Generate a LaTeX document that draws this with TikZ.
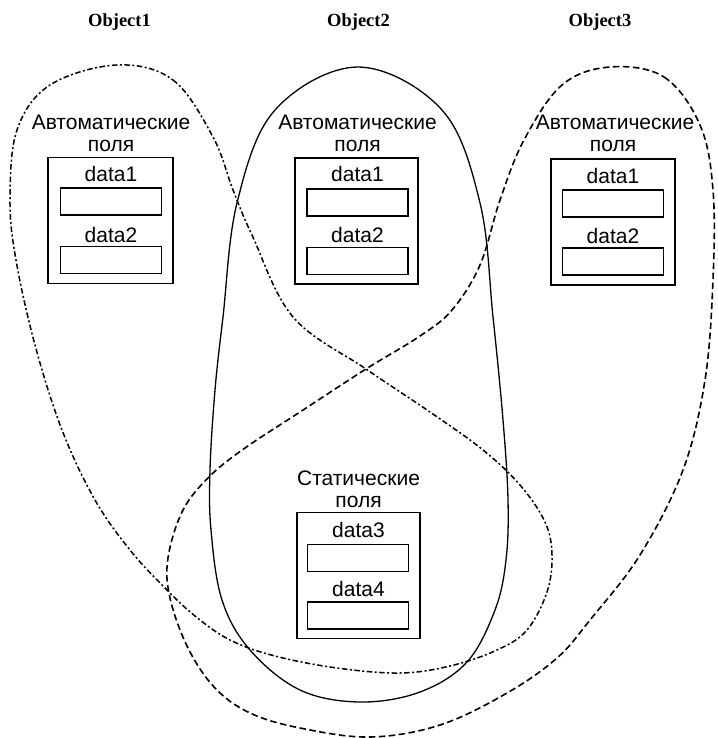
\documentclass[tikz,border=0pt]{standalone}
\usepackage{fontspec}
\setmainfont{Liberation Sans}
\newfontfamily\titlefont{Liberation Serif}
\begin{document}
\begin{tikzpicture}[x=1pt,y=-1pt,
  title/.style={font=\titlefont\bfseries\fontsize{18.5}{21}\selectfont, anchor=base, inner sep=0},
  lbl/.style={font=\fontsize{21}{25}\selectfont, anchor=base, inner sep=0},
  outerbox/.style={draw, line width=1.2pt, inner sep=0, minimum width=#1, minimum height=126pt},
  field/.style={draw, line width=1.2pt, inner sep=0, minimum width=101pt, minimum height=27pt},
  solidregion/.style={draw, line width=1.3pt},
  dotdashregion/.style={draw, line width=1.5pt, dash pattern=on 5.5pt off 2.5pt on 2pt off 2.5pt},
  dashregion/.style={draw, line width=1.6pt, dash pattern=on 6.5pt off 3.5pt}
]
\useasboundingbox (0,0) rectangle (717,738);

% titles
\node[title] (t1) at (119.5,27) {Object1};
\node[title] (t2) at (358.5,27) {Object2};
\node[title] (t3) at (600,27) {Object3};

% Object1
\node[lbl] (a1) at (111,130) {Автоматические};
\node[lbl] (p1) at (111,152) {поля};
\node[outerbox=125pt] (b1) at (110.5,220.5) {};
\node[lbl] (d11) at (111,182) {data1};
\node[field] (f11) at (111,201.5) {};
\node[lbl] (d12) at (111,242) {data2};
\node[field] (f12) at (111,260) {};

% Object2
\node[lbl] (a2) at (357.5,130) {Автоматические};
\node[lbl] (p2) at (357.5,152) {поля};
\node[outerbox=123pt] (b2) at (356.5,221) {};
\node[lbl] (d21) at (357.5,182) {data1};
\node[field] (f21) at (357.5,202.5) {};
\node[lbl] (d22) at (357.5,242) {data2};
\node[field] (f22) at (357.5,261) {};

% Object3
\node[lbl] (a3) at (615,130) {Автоматические};
\node[lbl] (p3) at (613,152) {поля};
\node[outerbox=124pt] (b3) at (613,222) {};
\node[lbl] (d31) at (613,183) {data1};
\node[field] (f31) at (613,203.5) {};
\node[lbl] (d32) at (613,243) {data2};
\node[field] (f32) at (613,261.5) {};

% Static
\node[lbl] (as) at (358.5,485) {Статические};
\node[lbl] (ps) at (358.5,507) {поля};
\node[outerbox=123pt] (bs) at (358.5,575.5) {};
\node[lbl] (ds1) at (358.5,537) {data3};
\node[field] (fs1) at (358,558) {};
\node[lbl] (ds2) at (358.5,596) {data4};
\node[field] (fs2) at (358,615.5) {};

% Object2 region (solid)
\path[solidregion] plot[smooth cycle, tension=0.6] coordinates {
 (358,67) (442,110) (480,203) (493,317) (503,420) (508,500) (506,560) (495,610)
 (467,662) (420,692) (360,702) (300,690) (250,650) (222,600) (211,530) (210,470)
 (215,390) (223,317) (237,203) (275,110)};

% Object1 region (dash-dot)
\path[dotdashregion] plot[smooth cycle, tension=0.6] coordinates {
 (117,65) (173,80) (213,137) (233,190) (252,235) (293,317) (366,369) (430,412)
 (483,450) (520,485) (545,522) (552,555) (547,592) (527,630) (497,650) (450,666)
 (400,673) (337,668) (275,656) (230,640) (195,616) (165,588) (130,550) (95,500)
 (62,430) (35,345) (16,260) (10,200) (17,130) (50,85)};

% Object3 region (dashed)
\path[dashregion] plot[smooth cycle, tension=0.6] coordinates {
 (610,67) (664,77) (700,125) (713,190) (713,280) (705,380) (683,470) (640,555)
 (590,620) (557,658) (507,693) (440,725) (370,737) (300,728) (250,713) (215,688)
 (188,648) (170,598) (168,558) (183,510) (210,476) (245,448) (300,412) (366,369)
 (420,336) (452,310) (480,265) (500,200) (524,140) (562,85)};

\end{tikzpicture}
\end{document}
